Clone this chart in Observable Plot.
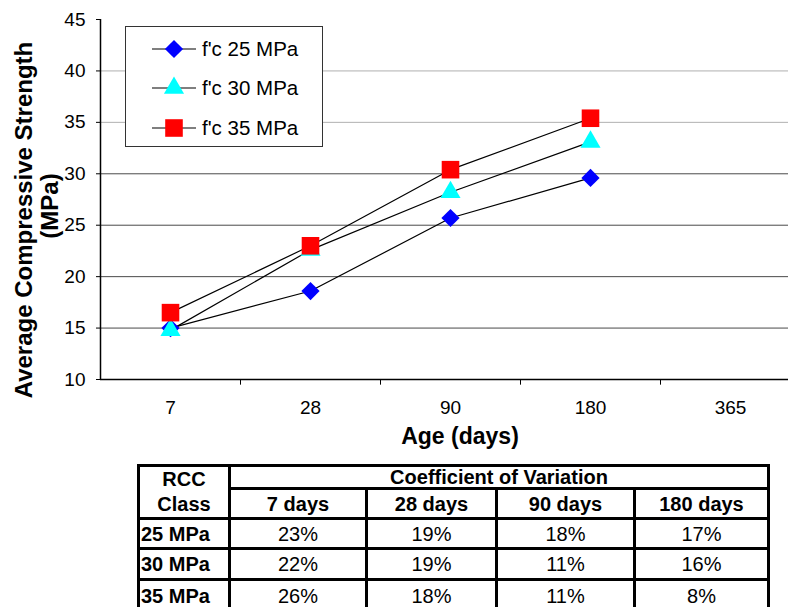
<!DOCTYPE html>
<html>
<head>
<meta charset="utf-8">
<script src="https://cdn.jsdelivr.net/npm/d3@7"></script>
<script src="https://cdn.jsdelivr.net/npm/@observablehq/plot@0.6"></script>
<style>
  html, body { margin: 0; padding: 0; background: #fff; }
  body { font-family: "Liberation Sans", Arial, sans-serif; color: #000; }
  #wrap { position: relative; width: 788px; height: 607px; overflow: hidden; background: #fff; }
  #chart { position: absolute; left: 0; top: 0; }
  .ytitle { position: absolute; font-weight: bold; font-size: 24px; white-space: nowrap;
            transform: translate(-50%, -50%) rotate(-90deg); line-height: 1; }
  .xtitle { position: absolute; font-weight: bold; font-size: 23px; white-space: nowrap;
            transform: translate(-50%, -50%); line-height: 1; }
  #legend { position: absolute; left: 125px; top: 26px; width: 196px; height: 119px;
            border: 1px solid #333; background: #fff; }
  .litem { position: absolute; left: 0; height: 24px; width: 196px; }
  .litem svg { position: absolute; left: 26px; top: 0; }
  .litem span { position: absolute; left: 76px; top: 50%; transform: translateY(-50%);
                font-size: 20.5px; white-space: nowrap; }
  #cov { position: absolute; left: 137px; top: 464px; border-collapse: collapse;
         font-size: 20px; table-layout: fixed; }
  #cov td { border: 3px solid #000; padding: 0; text-align: center; vertical-align: middle;
            white-space: nowrap; line-height: 20px; box-sizing: border-box; }
  #cov td.b { font-weight: bold; }
  #cov td.cls { text-align: left; padding-left: 1px; font-weight: bold; }
</style>
</head>
<body>
<div id="wrap"></div>
<script>
// ---- data ----
const ages = ["7", "28", "90", "180", "365"];
const seriesNames = ["f'c 25 MPa", "f'c 30 MPa", "f'c 35 MPa"];
const strength25 = [15.0, 18.6, 25.7, 29.6];
const strength30 = [14.8, 22.6, 28.2, 33.1];
const strength35 = [16.5, 23.0, 30.4, 35.4];
const yTicks = [10, 15, 20, 25, 30, 35, 40, 45];
const gridValues = [15, 20, 25, 30, 35, 40];
const yTitle = ["Average Compressive Strength", "(MPa)"];
const xTitle = "Age (days)";

const tableHeadLeft = ["RCC", "Class"];
const tableHeadTop = "Coefficient of Variation";
const tableAges = ["7 days", "28 days", "90 days", "180 days"];
const rccClasses = ["25 MPa", "30 MPa", "35 MPa"];
const cov25 = ["23%", "19%", "18%", "17%"];
const cov30 = ["22%", "19%", "11%", "16%"];
const cov35 = ["26%", "18%", "11%", "8%"];

// ---- styles ----
const seriesFill = ["#0000ff", "#00ffff", "#ff0000"];
const seriesSymbol = ["diamond2", "triangle2", "square2"];
const seriesR = [8.2, 9.6, 11.2];

const rows = [];
[strength25, strength30, strength35].forEach((arr, i) =>
  arr.forEach((v, j) => rows.push({ series: seriesNames[i], age: ages[j], value: v })));

const xRange = [100, 800];
const bw = (xRange[1] - xRange[0]) / ages.length;

const dotMarks = seriesNames.map((s, i) =>
  Plot.dot(rows.filter(d => d.series === s), {
    x: "age", y: "value", symbol: () => seriesSymbol[i], r: seriesR[i],
    fill: seriesFill[i], stroke: "none"
  }));

const chart = Plot.plot({
  width: 788, height: 450,
  marginTop: 19, marginBottom: 71, marginLeft: 100, marginRight: 0,
  style: { fontFamily: "'Liberation Sans', Arial, sans-serif", fontSize: "19px", color: "#000", background: "transparent", overflow: "visible" },
  x: { type: "band", domain: ages, range: xRange, padding: 0 },
  y: { domain: [10, 45] },
  symbol: { type: "identity" },
  marks: [
    Plot.ruleY(gridValues, { stroke: d => d >= 35 ? "#b0b0b0" : "#4a4a4a", strokeWidth: 1 }),
    Plot.axisY({ ticks: yTicks, tickSize: 4, tickPadding: 11, label: null, fontSize: 19 }),
    Plot.axisX({ tickSize: 0, tickPadding: 21, label: null, fontSize: 19 }),
    Plot.ruleX(ages.slice(1), { x: d => d, dx: -bw / 2, y1: 10, y2: 9.45, stroke: "#000" }),
    Plot.ruleY([10], { stroke: "#000", strokeWidth: 1.5 }),
    Plot.ruleX([ages[0]], { dx: -bw / 2, stroke: "#000", strokeWidth: 1.5 }),
    Plot.line(rows, { x: "age", y: "value", z: "series", stroke: "#000", strokeWidth: 1.2 }),
    ...dotMarks
  ]
});
chart.id = "chart";

const wrap = document.getElementById("wrap");
wrap.appendChild(chart);

// axis titles
const yt1 = document.createElement("div");
yt1.className = "ytitle"; yt1.textContent = yTitle[0];
yt1.style.left = "24px"; yt1.style.top = "220px";
wrap.appendChild(yt1);
const yt2 = document.createElement("div");
yt2.className = "ytitle"; yt2.textContent = yTitle[1];
yt2.style.left = "50px"; yt2.style.top = "206px";
wrap.appendChild(yt2);
const xt = document.createElement("div");
xt.className = "xtitle"; xt.textContent = xTitle;
xt.style.left = "460px"; xt.style.top = "436px";
wrap.appendChild(xt);

// legend
const legend = document.createElement("div");
legend.id = "legend";
const rowCenters = [22, 61, 101];
seriesNames.forEach((name, i) => {
  const item = document.createElement("div");
  item.className = "litem";
  item.style.top = (rowCenters[i] - 12) + "px";
  const svg = d3.create("svg").attr("width", 46).attr("height", 24);
  svg.append("line").attr("x1", 0).attr("x2", 44).attr("y1", 12).attr("y2", 12)
     .attr("stroke", "#000").attr("stroke-width", 1.2);
  const symMap = { diamond2: d3.symbolDiamond2, triangle2: d3.symbolTriangle2, square2: d3.symbolSquare2 };
  svg.append("path")
     .attr("d", d3.symbol(symMap[seriesSymbol[i]], Math.PI * seriesR[i] * seriesR[i])())
     .attr("transform", "translate(22,12)")
     .attr("fill", seriesFill[i]);
  item.appendChild(svg.node());
  const sp = document.createElement("span");
  sp.textContent = name;
  item.appendChild(sp);
  legend.appendChild(item);
});
wrap.appendChild(legend);

// table
const colWidths = [91, 137, 130, 138, 134];
const rowHeights = [23, 29, 30, 31, 32];
const table = document.createElement("table");
table.id = "cov";
const colgroup = document.createElement("colgroup");
colWidths.forEach(w => { const c = document.createElement("col"); c.style.width = w + "px"; colgroup.appendChild(c); });
table.appendChild(colgroup);

function cell(tr, text, cls, h) {
  const td = document.createElement("td");
  if (cls) td.className = cls;
  td.textContent = text;
  if (h) td.style.height = h + "px";
  tr.appendChild(td);
  return td;
}

const tr1 = document.createElement("tr");
const tdRcc = document.createElement("td");
tdRcc.rowSpan = 2; tdRcc.className = "b";
tdRcc.innerHTML = tableHeadLeft.join("<br>");
tdRcc.style.lineHeight = "25px";
tr1.appendChild(tdRcc);
const tdCov = cell(tr1, tableHeadTop, "b", rowHeights[0]);
tdCov.colSpan = 4;
table.appendChild(tr1);

const tr2 = document.createElement("tr");
tableAges.forEach(a => cell(tr2, a, "b", rowHeights[1]));
table.appendChild(tr2);

[cov25, cov30, cov35].forEach((vals, i) => {
  const tr = document.createElement("tr");
  cell(tr, rccClasses[i], "cls", rowHeights[2 + i]);
  vals.forEach(v => cell(tr, v, null, rowHeights[2 + i]));
  table.appendChild(tr);
});
wrap.appendChild(table);
</script>
</body>
</html>
